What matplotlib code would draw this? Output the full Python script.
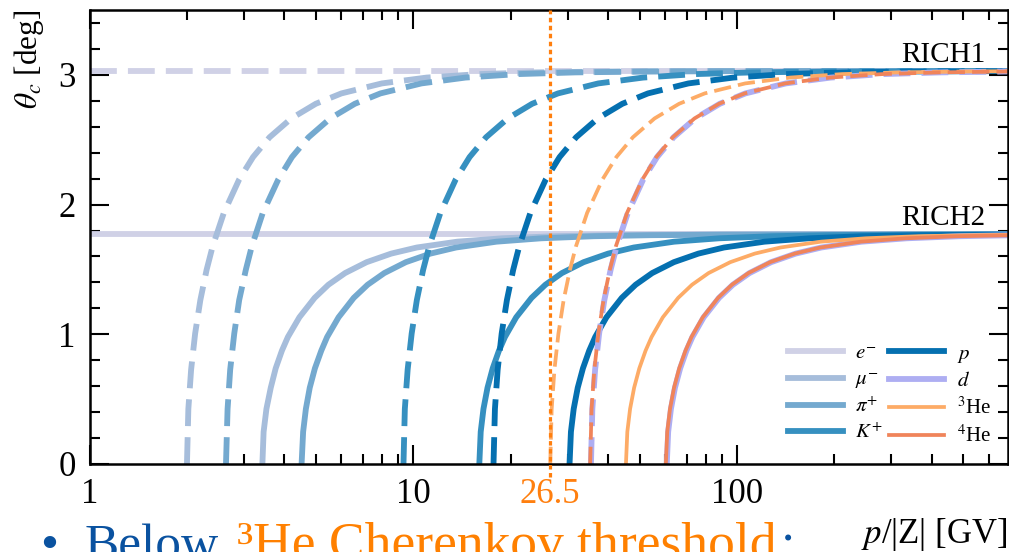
import matplotlib
matplotlib.use('Agg')
import matplotlib.pyplot as plt
from matplotlib.ticker import MultipleLocator, FixedLocator, FixedFormatter, LogLocator, NullFormatter

plt.rcParams['font.family'] = 'serif'
plt.rcParams['font.serif'] = ['Liberation Serif', 'DejaVu Serif']
plt.rcParams['mathtext.fontset'] = 'stix'

# ============================================================
# DATA
# ============================================================
# saturated angle profiles [deg] for RICH1 (C4F10) and RICH2 (CF4)
th_rich1 = [0, 0.424, 0.727, 1.006, 1.264, 1.497, 1.676, 1.936, 2.194, 2.366,
            2.519, 2.664, 2.777, 2.857, 2.934, 2.979, 3.006, 3.019, 3.026, 3.029]
th_rich2 = [0, 0.248, 0.425, 0.588, 0.738, 0.874, 0.979, 1.131, 1.281, 1.382,
            1.472, 1.556, 1.622, 1.669, 1.714, 1.740, 1.756, 1.764, 1.768, 1.769]

# RICH1 (dashed) momenta p/|Z| [GV]
p1_e = [1, 685]
p1_mu = [2.0, 2.02, 2.06, 2.12, 2.2, 2.3, 2.4, 2.6, 2.9, 3.2, 3.6, 4.2, 5.0, 6.0,
         8.0, 11, 16, 24, 40, 80, 685]
p1_pi = [2.64, 2.67, 2.72, 2.80, 2.90, 3.04, 3.17, 3.43, 3.83, 4.22, 4.75, 5.54,
         6.60, 7.92, 10.6, 14.5, 21.1, 31.7, 52.8, 106, 685]
p1_K = [9.33, 9.42, 9.61, 9.89, 10.26, 10.73, 11.20, 12.13, 13.53, 14.93, 16.79,
        19.59, 23.3, 28.0, 37.3, 51.3, 74.6, 112, 187, 373, 685]
p1_p = [17.7, 17.88, 18.23, 18.76, 19.47, 20.36, 21.24, 23.01, 25.67, 28.32, 31.86,
        37.17, 44.25, 53.1, 70.8, 97.4, 141.6, 212.4, 354, 685]
p1_d = [35.4, 35.75, 36.46, 37.52, 38.94, 40.71, 42.48, 46.02, 51.33, 56.64, 63.72,
        74.34, 88.5, 106.2, 141.6, 194.7, 283.2, 424.8, 685]
p1_he3 = [26.5, 26.77, 27.30, 28.09, 29.15, 30.48, 31.80, 34.45, 38.43, 42.40, 47.70,
          55.65, 66.25, 79.5, 106, 145.8, 212, 318, 530, 685]
p1_he4 = [35.2, 35.55, 36.26, 37.31, 38.72, 40.48, 42.24, 45.76, 51.04, 56.32, 63.36,
          73.92, 88.0, 105.6, 140.8, 193.6, 281.6, 422.4, 685]

t1_e = [3.03, 3.03]
t1_mu = th_rich1 + [3.030]
t1_pi = th_rich1 + [3.030]
t1_K = th_rich1 + [3.030]
t1_p = th_rich1[:19] + [3.029]
t1_d = th_rich1[:18] + [3.026]
t1_he3 = th_rich1[:19] + [3.028]
t1_he4 = th_rich1[:18] + [3.026]

# RICH2 (solid) momenta p/|Z| [GV]
p2_e = [1, 685]
p2_mu = [3.42, 3.45, 3.52, 3.63, 3.76, 3.93, 4.10, 4.45, 4.96, 5.47, 6.16, 7.18,
         8.55, 10.26, 13.68, 18.81, 27.4, 41.0, 68.4, 136.8, 685]
p2_pi = [4.52, 4.57, 4.66, 4.79, 4.97, 5.20, 5.42, 5.88, 6.55, 7.23, 8.14, 9.49,
         11.3, 13.56, 18.08, 24.86, 36.2, 54.2, 90.4, 180.8, 685]
p2_K = [16.0, 16.16, 16.48, 16.96, 17.6, 18.4, 19.2, 20.8, 23.2, 25.6, 28.8, 33.6,
        40.0, 48.0, 64.0, 88.0, 128, 192, 320, 685]
p2_p = [30.4, 30.70, 31.31, 32.22, 33.44, 34.96, 36.48, 39.52, 44.08, 48.64, 54.72,
        63.84, 76.0, 91.2, 121.6, 167.2, 243.2, 364.8, 608, 685]
p2_d = [60.7, 61.31, 62.52, 64.34, 66.77, 69.81, 72.84, 78.91, 88.02, 97.12, 109.3,
        127.5, 151.8, 182.1, 242.8, 333.9, 485.6, 685]
p2_he3 = [45.4, 45.85, 46.76, 48.12, 49.94, 52.21, 54.48, 59.02, 65.83, 72.64, 81.72,
          95.34, 113.5, 136.2, 181.6, 249.7, 363.2, 544.8, 685]
p2_he4 = [60.3, 60.90, 62.11, 63.92, 66.33, 69.35, 72.36, 78.39, 87.44, 96.48, 108.5,
          126.6, 150.8, 180.9, 241.2, 331.7, 482.4, 685]

t2_e = [1.77, 1.77]
t2_mu = th_rich2 + [1.770]
t2_pi = th_rich2 + [1.770]
t2_K = th_rich2[:19] + [1.770]
t2_p = th_rich2[:19] + [1.768]
t2_d = th_rich2[:17] + [1.763]
t2_he3 = th_rich2[:18] + [1.766]
t2_he4 = th_rich2[:17] + [1.763]

labels = [r'$e^{-}$', r'$\mu^{-}$', r'$\pi^{+}$', r'$K^{+}$', r'$p$', r'$d$',
          r'$^{3}$He', r'$^{4}$He']
colors = ['#d0d1e6', '#a6bddb', '#74a9cf', '#3690c0', '#0570b0', '#aeaef2',
          '#fdab66', '#f0845a']
widths = [4.2, 4.2, 4.2, 4.2, 4.2, 4.2, 2.7, 2.7]

he3_threshold = 26.5
xticks = [1, 10, 26.5, 100]
xticklabels = ['1', '10', '26.5', '100']

rich1 = [(p1_e, t1_e), (p1_mu, t1_mu), (p1_pi, t1_pi), (p1_K, t1_K),
         (p1_p, t1_p), (p1_d, t1_d), (p1_he3, t1_he3), (p1_he4, t1_he4)]
rich2 = [(p2_e, t2_e), (p2_mu, t2_mu), (p2_pi, t2_pi), (p2_K, t2_K),
         (p2_p, t2_p), (p2_d, t2_d), (p2_he3, t2_he3), (p2_he4, t2_he4)]

# ============================================================
# PLOT
# ============================================================
orange = '#ff7f0e'
blue = '#0a52a0'
W, H = 1009, 552
fig = plt.figure(figsize=(W / 100, H / 100), dpi=100)
ax = fig.add_axes([89.5 / W, 1 - 464 / H, (1007.5 - 89.5) / W, (464 - 10) / H])

for i in range(len(labels)):
    x1, y1 = rich1[i]
    x2, y2 = rich2[i]
    ax.plot(x1, y1, color=colors[i], lw=widths[i], dashes=(4.6, 1.9))
    ax.plot(x2, y2, color=colors[i], lw=widths[i], label=labels[i])

ax.plot([he3_threshold, he3_threshold], [-0.1, 3.5], color=orange, lw=2.3,
        ls=(0, (1.4, 1.1)), clip_on=False, zorder=10)

ax.text(585, 3.1, 'RICH1', ha='right', va='baseline', fontsize=21)
ax.text(585, 1.84, 'RICH2', ha='right', va='baseline', fontsize=21)

ax.set_xscale('log')
ax.set_xlim(1, 685)
ax.set_ylim(0, 3.5)

ax.xaxis.set_major_locator(FixedLocator(xticks))
ax.xaxis.set_major_formatter(FixedFormatter(xticklabels))
ax.xaxis.set_minor_locator(LogLocator(base=10, subs=[2, 3, 4, 5, 6, 7, 8, 9], numticks=20))
ax.xaxis.set_minor_formatter(NullFormatter())
ax.yaxis.set_major_locator(MultipleLocator(1))
ax.yaxis.set_minor_locator(MultipleLocator(0.2))

ax.tick_params(which='both', direction='in', top=True, right=True, width=1.5)
ax.tick_params(which='major', length=14, labelsize=25, pad=10)
ax.tick_params(which='minor', length=7)
for s in ax.spines.values():
    s.set_linewidth(1.8)

# the 26.5 tick only carries an orange label
t265 = ax.xaxis.get_major_ticks()[2]
t265.tick1line.set_visible(False)
t265.tick2line.set_visible(False)
t265.label1.set_color(orange)

ax.set_ylabel(r'$\theta_c$ [deg]', fontsize=22.5, loc='top', labelpad=9)
ax.set_xlabel(r'$p$/|Z| [GV]', fontsize=25, loc='right', labelpad=4)

ax.legend(loc='lower right', ncol=2, frameon=False, fontsize=15,
          handlelength=2.65, handletextpad=0.6, columnspacing=0.3,
          labelspacing=0.32, borderaxespad=0.4)

# slide text that runs along the bottom edge
ty = -0.012
fig.text(40 / W, ty, '\u2022', color=blue, fontsize=37)
fig.text(85 / W, ty, 'Below', color=blue, fontsize=37)
t_or = fig.text(237 / W, ty, '\u00b3He Cherenkov threshold', color='#ff8000', fontsize=38.5)
fig.canvas.draw()
x_end = t_or.get_window_extent().x1
fig.text((x_end + 4) / W, ty, ':', color=blue, fontsize=37)

fig.savefig('out.png', dpi=100)
